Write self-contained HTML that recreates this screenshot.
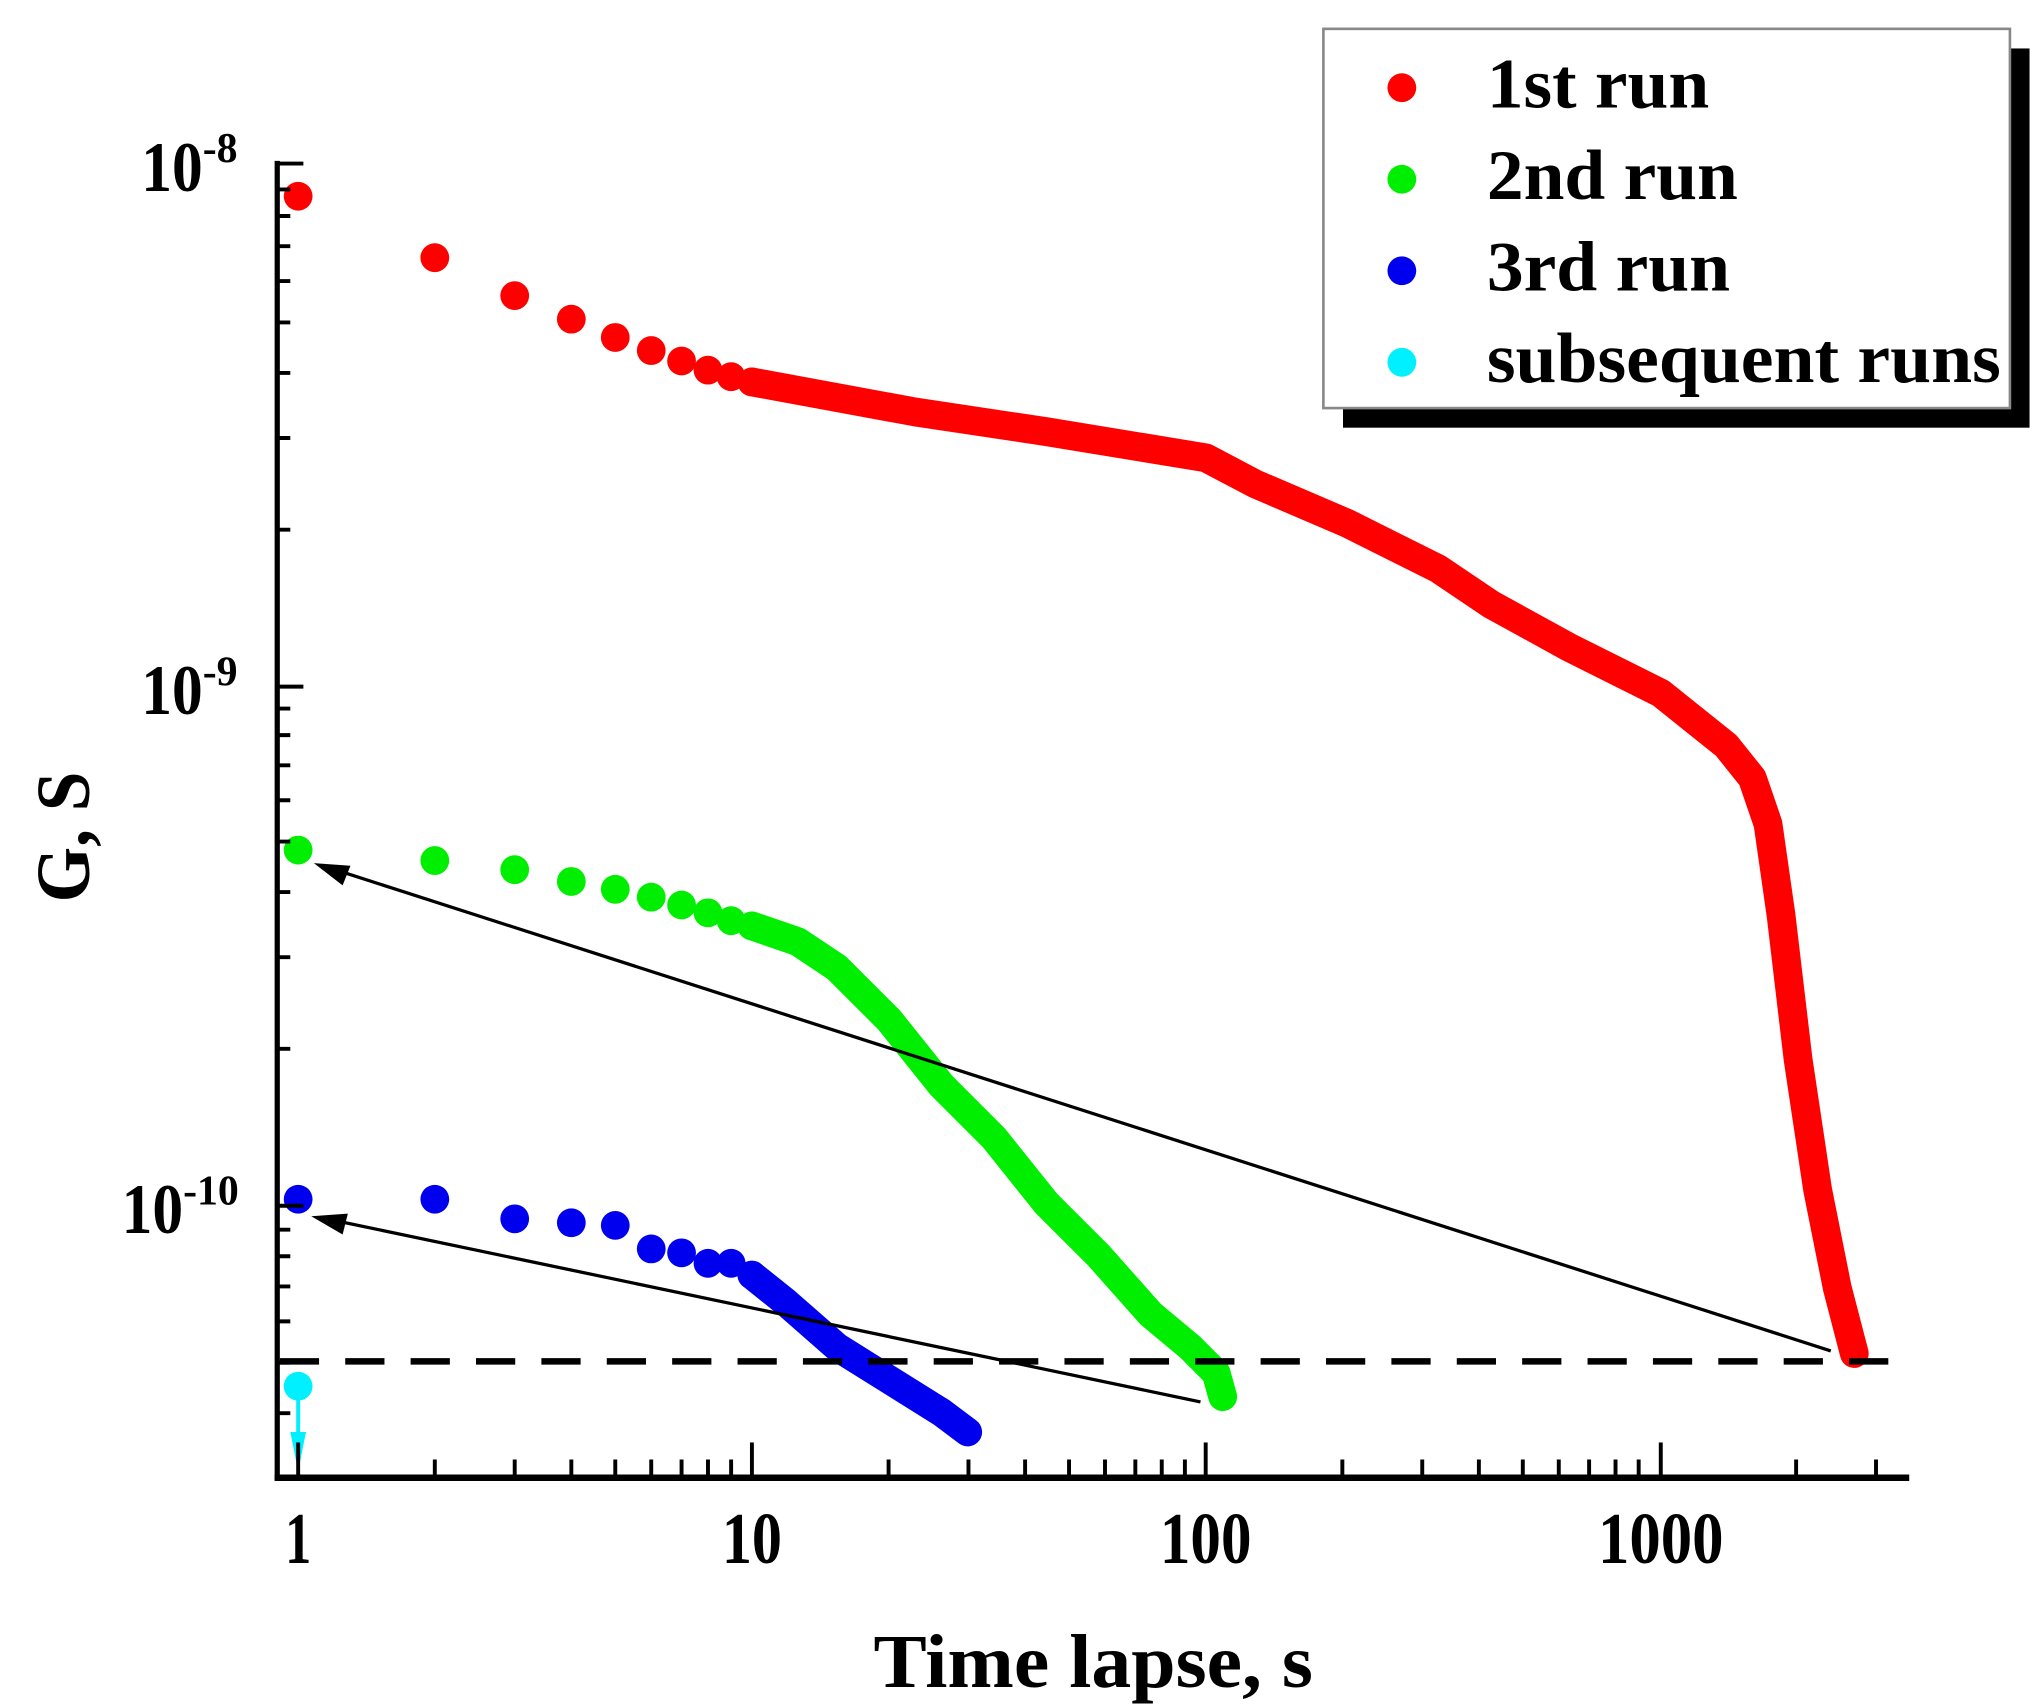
<!DOCTYPE html>
<html><head><meta charset="utf-8"><style>html,body{margin:0;padding:0;background:#fff}svg{display:block}</style></head>
<body>
<svg width="2040" height="1708" viewBox="0 0 1560 1306" xmlns="http://www.w3.org/2000/svg" font-family="'Liberation Serif',serif" font-weight="bold">
<rect width="1560" height="1306" fill="#fff"/>
<!-- red -->
<g fill="#ff0000">
<circle cx="228" cy="150" r="11"/><circle cx="332.5" cy="197" r="11"/><circle cx="393.6" cy="226" r="11"/><circle cx="436.9" cy="244" r="11"/><circle cx="470.5" cy="258" r="11"/><circle cx="498" cy="268" r="11"/><circle cx="521.2" cy="276" r="11"/><circle cx="541.4" cy="283" r="11"/><circle cx="559.1" cy="288" r="11"/><circle cx="575" cy="292" r="11"/>
</g>
<polyline fill="none" stroke="#ff0000" stroke-width="22" stroke-linecap="round" stroke-linejoin="round" points="575,292 700,315 800,330 922,350 960,370 1030,400 1100,435 1140,462 1200,495 1270,530 1320,570 1340,595 1352,630 1362,700 1375,810 1390,910 1405,985 1418,1035"/>
<!-- green -->
<g fill="#00ee00">
<circle cx="228" cy="650" r="11"/><circle cx="332.5" cy="658" r="11"/><circle cx="393.6" cy="665" r="11"/><circle cx="436.9" cy="674" r="11"/><circle cx="470.5" cy="680" r="11"/><circle cx="498" cy="686" r="11"/><circle cx="521.2" cy="692" r="11"/><circle cx="541.4" cy="698" r="11"/><circle cx="559.1" cy="704" r="11"/><circle cx="575" cy="708" r="11"/>
</g>
<polyline fill="none" stroke="#00ee00" stroke-width="22" stroke-linecap="round" stroke-linejoin="round" points="575,708 610,720 640,740 680,780 720,830 760,870 800,920 840,960 880,1005 910,1030 930,1050 935,1068"/>
<!-- blue -->
<g fill="#0000ee">
<circle cx="228" cy="917" r="11"/><circle cx="332.5" cy="917" r="11"/><circle cx="393.6" cy="932" r="11"/><circle cx="436.9" cy="935" r="11"/><circle cx="470.5" cy="937" r="11"/><circle cx="498" cy="955" r="11"/><circle cx="521.2" cy="958" r="11"/><circle cx="541.4" cy="966" r="11"/><circle cx="559.1" cy="966" r="11"/><circle cx="575" cy="975" r="11"/>
</g>
<polyline fill="none" stroke="#0000ee" stroke-width="22" stroke-linecap="round" stroke-linejoin="round" points="575,975 600,995 640,1030 680,1055 720,1080 740,1095"/>
<!-- dashed line -->
<line x1="214" y1="1041" x2="1460" y2="1041" stroke="#000" stroke-width="5" stroke-dasharray="30,20"/>
<!-- arrows -->
<line x1="1400" y1="1033" x2="250" y2="663" stroke="#000" stroke-width="2.5"/>
<polygon points="240,660 268,662 262,677" fill="#000"/>
<line x1="918" y1="1072" x2="250" y2="932" stroke="#000" stroke-width="2.5"/>
<polygon points="238,930 266,928 262,944" fill="#000"/>
<!-- cyan -->
<circle cx="228" cy="1060" r="11" fill="#00f0ff"/>
<line x1="228" y1="1060" x2="228" y2="1110" stroke="#00f0ff" stroke-width="3"/>
<polygon points="222,1095 234,1095 228,1125" fill="#00f0ff"/>
<!-- axes -->
<line x1="212" y1="123" x2="212" y2="1132" stroke="#000" stroke-width="4"/>
<line x1="210" y1="1130" x2="1460" y2="1130" stroke="#000" stroke-width="5"/>
<g stroke="#000" stroke-width="3">
<line x1="228" y1="1130" x2="228" y2="1103"/><line x1="575" y1="1130" x2="575" y2="1103"/><line x1="922" y1="1130" x2="922" y2="1103"/><line x1="1270" y1="1130" x2="1270" y2="1103"/>
<path d="M332.5 1130v-14M393.6 1130v-14M436.9 1130v-14M470.5 1130v-14M498 1130v-14M521.2 1130v-14M541.4 1130v-14M559.1 1130v-14
M679.5 1130v-14M740.6 1130v-14M783.9 1130v-14M817.5 1130v-14M845 1130v-14M868.2 1130v-14M888.4 1130v-14M906.1 1130v-14
M1026.5 1130v-14M1087.6 1130v-14M1130.9 1130v-14M1164.5 1130v-14M1192 1130v-14M1215.2 1130v-14M1235.4 1130v-14M1253.1 1130v-14
M1373.5 1130v-14M1434.6 1130v-14"/>
<path d="M212 125h20M212 525h20M212 922h20
M212 405h10M212 334.9h10M212 285.1h10M212 246.5h10M212 214.9h10M212 188.2h10M212 165.1h10M212 144.8h10
M212 802h10M212 731.9h10M212 682.1h10M212 643.5h10M212 611.9h10M212 585.2h10M212 562.1h10M212 541.8h10
M212 1080.6h10M212 1042h10M212 1010.4h10M212 983.7h10M212 960.6h10M212 940.3h10"/>
</g>
<g font-size="56" text-anchor="middle">
<text x="228" y="1195" textLength="20" lengthAdjust="spacingAndGlyphs">1</text>
<text x="575" y="1195" textLength="46" lengthAdjust="spacingAndGlyphs">10</text>
<text x="922" y="1195" textLength="70" lengthAdjust="spacingAndGlyphs">100</text>
<text x="1270" y="1195" textLength="96" lengthAdjust="spacingAndGlyphs">1000</text>
</g>
<g font-size="54">
<text x="108" y="146"><tspan textLength="47" lengthAdjust="spacingAndGlyphs">10</tspan><tspan font-size="32" dy="-22">-8</tspan></text>
<text x="108" y="546"><tspan textLength="47" lengthAdjust="spacingAndGlyphs">10</tspan><tspan font-size="32" dy="-22">-9</tspan></text>
<text x="93" y="943"><tspan textLength="47" lengthAdjust="spacingAndGlyphs">10</tspan><tspan font-size="32" dy="-22">-10</tspan></text>
</g>
<text x="836" y="1290" font-size="58" text-anchor="middle" textLength="336" lengthAdjust="spacingAndGlyphs">Time lapse, s</text>
<text transform="translate(68,640) rotate(-90)" font-size="58" text-anchor="middle" textLength="100" lengthAdjust="spacingAndGlyphs">G, S</text>
<!-- legend -->
<rect x="1027" y="37" width="525" height="290" fill="#000"/>
<rect x="1012" y="22" width="525" height="290" fill="#fff" stroke="#888" stroke-width="2"/>
<circle cx="1072" cy="67" r="11" fill="#ff0000"/>
<circle cx="1072" cy="137" r="11" fill="#00ee00"/>
<circle cx="1072" cy="207" r="11" fill="#0000ee"/>
<circle cx="1072" cy="277" r="11" fill="#00f0ff"/>
<g font-size="54">
<text x="1137" y="82" textLength="170" lengthAdjust="spacingAndGlyphs">1st run</text>
<text x="1137" y="152" textLength="192" lengthAdjust="spacingAndGlyphs">2nd run</text>
<text x="1137" y="222" textLength="186" lengthAdjust="spacingAndGlyphs">3rd run</text>
<text x="1137" y="292" textLength="393" lengthAdjust="spacingAndGlyphs">subsequent runs</text>
</g>
</svg>
</body></html>
